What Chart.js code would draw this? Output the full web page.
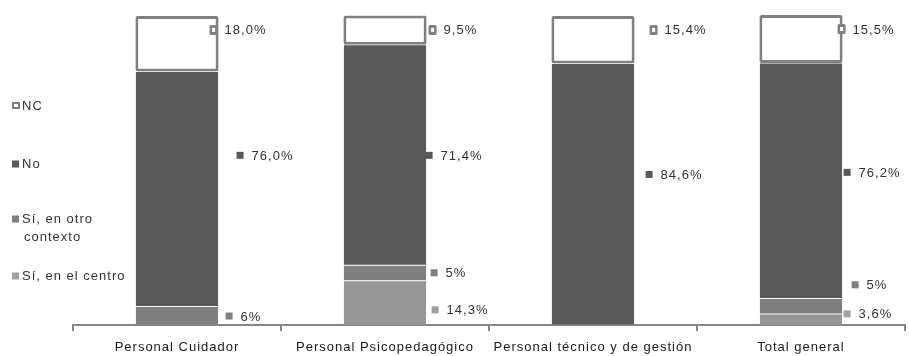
<!DOCTYPE html>
<html><head><meta charset="utf-8">
<script src="https://cdn.jsdelivr.net/npm/chart.js@4.4.1/dist/chart.umd.min.js"></script>
<style>html,body{margin:0;padding:0;background:#fff}canvas{display:block}</style>
</head><body>
<canvas id="c" width="909" height="356"></canvas>
<script>
// Categories and series values (percent)
const categories = ['Personal Cuidador', 'Personal Psicopedagógico', 'Personal técnico y de gestión', 'Total general'];
const seriesNames = ['Sí, en el centro', 'Sí, en otro contexto', 'No', 'NC'];
const siCentro = [0, 14.3, 0, 3.6];
const siOtro = [6, 5, 0, 5];
const no = [76.0, 71.4, 84.6, 76.2];
const nc = [18.0, 9.5, 15.4, 15.5];
const decimals = [1, 0, 1, 1];

// Styling
const fills = ['#969696', '#7f7f7f', '#595959', '#ffffff'];
const markerFills = ['#a0a0a0', '#7f7f7f', '#595959', '#ffffff'];
const FONT = '"Liberation Sans", Arial, sans-serif';
const FSIZE = 13;
const TEXT = '#333333';

// Where each value label sits: [y value, px offset from the bar's right edge]
const labelSpots = [
  [null, [4.9, 5], null, [3.6, 1]],
  [[2.9, 7], [16.9, 4], null, [13, 9]],
  [[54.9, 18], [54.9, -1], [48.7, 11], [49.4, 1]],
  [[95.5, -9], [95.5, 2], [95.5, 15], [95.8, -5]]
];
// Legend rows, top to bottom (dataset index, baseline y)
const legendRows = [[3, 105], [2, 163], [1, 218], [0, 275]];

function fmt(v, d) {
  return v.toFixed(d).replace('.', ',') + '%';
}

function marker(ctx, x, y, i) {
  if (i === 3) {
    ctx.fillStyle = '#808080';
    ctx.beginPath();
    ctx.roundRect(x, y - 5, 8, 10, 1.5);
    ctx.fill();
    ctx.fillStyle = '#fff';
    ctx.fillRect(x + 2.5, y - 2, 3, 4);
  } else {
    ctx.fillStyle = markerFills[i];
    ctx.fillRect(x, y - 3.5, 7, 7);
  }
}

const spacing = {
  id: 'spacing',
  beforeDraw(chart) { chart.ctx.letterSpacing = '1px'; }
};

const valueLabels = {
  id: 'valueLabels',
  afterDatasetsDraw(chart) {
    const ctx = chart.ctx;
    const ys = chart.scales.y;
    ctx.save();
    ctx.letterSpacing = '1px';
    ctx.font = FSIZE + 'px ' + FONT;
    ctx.textBaseline = 'middle';
    ctx.textAlign = 'left';
    chart.data.datasets.forEach((ds, i) => {
      const meta = chart.getDatasetMeta(i);
      ds.data.forEach((v, j) => {
        const spot = labelSpots[i][j];
        if (!v || !spot) return;
        const bar = meta.data[j];
        const right = bar.x + bar.width / 2;
        const mx = right + spot[1];
        const y = ys.getPixelForValue(spot[0]);
        marker(ctx, mx, y, i);
        ctx.fillStyle = TEXT;
        ctx.fillText(fmt(v, decimals[i]), mx + 15, y + 1);
      });
    });
    ctx.restore();
  }
};

const sideLegend = {
  id: 'sideLegend',
  afterDraw(chart) {
    const ctx = chart.ctx;
    ctx.save();
    ctx.letterSpacing = '1px';
    ctx.font = FSIZE + 'px ' + FONT;
    ctx.textBaseline = 'middle';
    ctx.textAlign = 'left';
    legendRows.forEach(([i, y]) => {
      const name = chart.data.datasets[i].label;
      // wrap long names onto a second line
      const words = name.split(' ');
      const lines = [];
      let line = '';
      words.forEach(w => {
        const t = line ? line + ' ' + w : w;
        if (ctx.measureText(t).width > 122 && line) { lines.push(line); line = w; }
        else line = t;
      });
      lines.push(line);
      if (i === 3) {
        ctx.fillStyle = '#808080';
        ctx.fillRect(12, y - 3, 8, 7);
        ctx.fillStyle = '#fff';
        ctx.fillRect(14, y - 1, 4, 3);
      } else {
        marker(ctx, 12, y + 1, i);
      }
      ctx.fillStyle = TEXT;
      lines.forEach((l, k) => ctx.fillText(l, k ? 24 : 22, y + 1 + k * 18));
    });
    ctx.restore();
  }
};

const series = [siCentro, siOtro, no, nc];
new Chart(document.getElementById('c'), {
  type: 'bar',
  data: {
    labels: categories,
    datasets: series.map((d, i) => ({
      label: seriesNames[i],
      data: d,
      backgroundColor: fills[i],
      borderColor: i === 3 ? '#808080' : 'rgba(255,255,255,0.12)',
      borderWidth: i === 3 ? 3 : 0.5,
      borderSkipped: false,
      borderRadius: i === 3 ? 2 : 0,
      categoryPercentage: 1,
      barPercentage: 0.4,
      clip: false
    }))
  },
  options: {
    responsive: false,
    animation: false,
    events: [],
    layout: { padding: { left: 73, right: 4, top: 16, bottom: 0 } },
    plugins: { legend: { display: false }, tooltip: { enabled: false } },
    scales: {
      x: {
        stacked: true,
        offset: true,
        border: { color: '#868686', width: 2 },
        grid: { offset: true, drawOnChartArea: false, color: '#868686', lineWidth: 2, tickLength: 6 },
        ticks: { color: '#1a1a1a', font: { family: FONT, size: FSIZE }, padding: 9, maxRotation: 0, autoSkip: false },
        afterFit(scale) { scale.height = 31; }
      },
      y: {
        stacked: true,
        display: false,
        min: 0,
        max: 100
      }
    }
  },
  plugins: [spacing, valueLabels, sideLegend]
});
</script>
</body></html>
